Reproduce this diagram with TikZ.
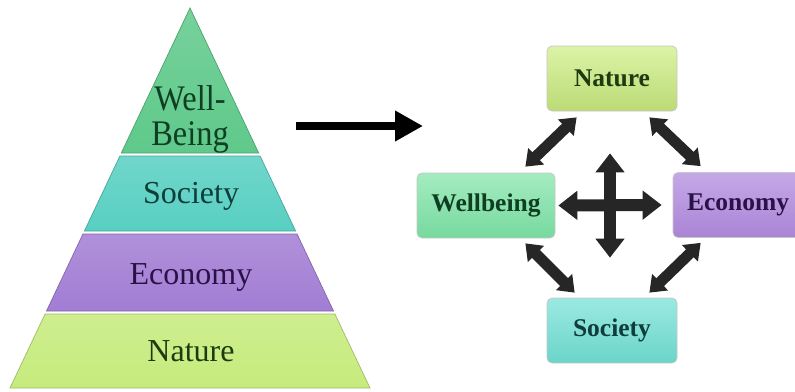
\documentclass[tikz,border=0pt]{standalone}
\usepackage{fontspec}
\setmainfont{Liberation Serif}
\newfontfamily\narrowserif[FakeStretch=0.9]{Liberation Serif}
\usetikzlibrary{arrows.meta,calc}
\definecolor{wbG}{HTML}{5FC98A}
\definecolor{soC}{HTML}{58CFC2}
\definecolor{ecP}{HTML}{A27DD4}
\definecolor{naY}{HTML}{C6EB7C}
\definecolor{bxY}{HTML}{CCEE80}
\definecolor{bxG}{HTML}{7DE4A6}
\definecolor{bxP}{HTML}{B28BE0}
\definecolor{bxT}{HTML}{70E0D4}
\definecolor{arrowgray}{HTML}{262626}
\definecolor{tG}{HTML}{0E3F22}
\definecolor{tT}{HTML}{0E3D3A}
\definecolor{tP}{HTML}{2A1248}
\definecolor{tY}{HTML}{1E3A0E}
\begin{document}
\begin{tikzpicture}[x=1pt,y=-1pt,
  band/.style={line width=0.7pt},
  ptext/.style={font=\fontsize{32}{36}\selectfont, inner sep=0pt, anchor=base},
  wbtext/.style={font=\narrowserif\fontsize{36}{40}\selectfont, inner sep=0pt, anchor=base},
  box/.style={rectangle, rounded corners=5pt, minimum height=65pt, draw=black!22,
    line width=0.7pt, font=\fontsize{25.5}{30}\selectfont\bfseries, inner sep=0pt},
  diag/.style={line width=11pt, draw=arrowgray,
    {Triangle[width=22pt,length=15pt]}-{Triangle[width=22pt,length=15pt]}},
  crossarrow/.style={line width=12pt, draw=arrowgray,
    {Triangle[width=28pt,length=19pt]}-{Triangle[width=28pt,length=19pt]}},
  bigarrow/.style={line width=8pt, draw=black, -{Triangle[width=29pt,length=28pt]}}
]
\useasboundingbox (0,0) rectangle (795,391);

% ---------- pyramid ----------
\shade[band, top color=wbG!85!white, bottom color=wbG, draw=wbG!80!black]
  (190,8) -- (258.7,153) -- (121.3,153) -- cycle;
\shade[band, top color=soC!85!white, bottom color=soC, draw=soC!80!black]
  (119.9,156) -- (260.1,156) -- (295.6,231) -- (84.4,231) -- cycle;
\shade[band, top color=ecP!85!white, bottom color=ecP, draw=ecP!80!black]
  (82.95,234) -- (297.05,234) -- (333.5,311) -- (46.5,311) -- cycle;
\shade[band, top color=naY!85!white, bottom color=naY, draw=naY!80!black]
  (45.1,314) -- (334.9,314) -- (370,388) -- (10,388) -- cycle;

\node[wbtext, text=tG] (pwb1) at (190,110.5) {Well-};
\node[wbtext, text=tG] (pwb2) at (190,145) {Being};
\node[ptext, text=tT] (pso) at (191,203.5) {Society};
\node[ptext, text=tP] (pec) at (191,284) {Economy};
\node[ptext, text=tY] (pna) at (191,361.5) {Nature};

% ---------- big arrow ----------
\coordinate (ba) at (296,126);
\coordinate (bb) at (423,126);
\draw[bigarrow] (ba) -- (bb);

% ---------- boxes ----------
\node[box, minimum width=130pt, top color=bxY!70!white, bottom color=bxY!92!black, text=tY]
  (nat) at (612,78.5) {Nature};
\node[box, minimum width=138pt, top color=bxG!70!white, bottom color=bxG!95!black, text=tG]
  (wel) at (486,205.5) {Wellbeing};
\node[box, minimum width=130pt, top color=bxP!75!white, bottom color=bxP!95!black, text=tP]
  (eco) at (738,205) {Economy};
\node[box, minimum width=130pt, top color=bxT!70!white, bottom color=bxT!95!black, text=tT]
  (soc) at (612,330.5) {Society};

% ---------- arrows between boxes ----------
\draw[diag] ($(nat.south west)+(30,6)$) -- ($(wel.north east)+(-30,-6)$);
\draw[diag] ($(nat.south east)+(-28,6)$) -- ($(eco.north west)+(28,-6)$);
\draw[diag] ($(wel.south east)+(-30,5)$) -- ($(soc.north west)+(28,-5)$);
\draw[diag] ($(eco.south west)+(28,5)$) -- ($(soc.north east)+(-28,-5)$);

\draw[crossarrow] ($(wel.east)+(3,0)$) -- ($(eco.west)+(-11,0)$);
\draw[crossarrow] ($(nat.south)+(-2,42)$) -- ($(soc.north)+(-2,-40)$);
\end{tikzpicture}
\end{document}
